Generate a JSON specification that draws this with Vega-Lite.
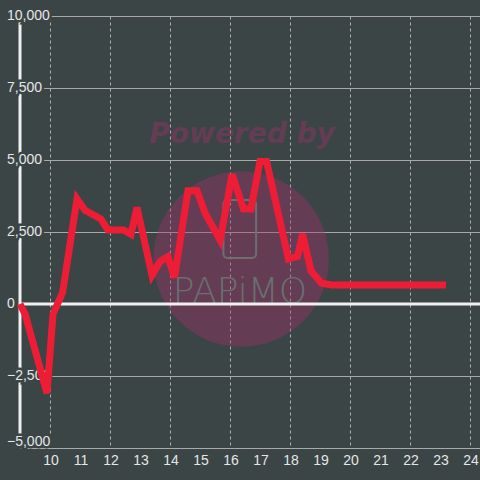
{
  "$schema": "https://vega.github.io/schema/vega-lite/v6.json",
  "width": 460,
  "height": 432,
  "autosize": {"type": "none"},
  "padding": {"left": 20, "top": 16, "right": 0, "bottom": 32},
  "background": "#3b4545",
  "config": {
    "view": {"stroke": null},
    "font": "Liberation Sans",
    "axisX": {
      "grid": true,
      "gridDash": [3, 3],
      "gridColor": "#b0b0b0",
      "gridWidth": 1,
      "domain": true,
      "domainColor": "#aaaaaa",
      "domainWidth": 1,
      "ticks": false,
      "labels": false
    },
    "axisY": {
      "grid": true,
      "gridColor": "#a8a8a8",
      "gridWidth": 1,
      "domain": false,
      "ticks": false,
      "labels": false
    }
  },
  "datasets": {
    "series": [
      {"x": 9.0, "y": 0},
      {"x": 9.17, "y": -350},
      {"x": 9.9, "y": -3100},
      {"x": 10.1, "y": -350},
      {"x": 10.42, "y": 400},
      {"x": 10.9, "y": 3650},
      {"x": 11.17, "y": 3250},
      {"x": 11.7, "y": 2950},
      {"x": 11.93, "y": 2570},
      {"x": 12.45, "y": 2570},
      {"x": 12.7, "y": 2420},
      {"x": 12.9, "y": 3350},
      {"x": 13.4, "y": 1000},
      {"x": 13.67, "y": 1480},
      {"x": 13.93, "y": 1640},
      {"x": 14.15, "y": 920},
      {"x": 14.6, "y": 3930},
      {"x": 14.9, "y": 3930},
      {"x": 15.17, "y": 3150},
      {"x": 15.67, "y": 2220},
      {"x": 16.07, "y": 4500},
      {"x": 16.45, "y": 3300},
      {"x": 16.7, "y": 3300},
      {"x": 17.0, "y": 4950},
      {"x": 17.22, "y": 4950},
      {"x": 17.95, "y": 1560},
      {"x": 18.25, "y": 1650},
      {"x": 18.42, "y": 2430},
      {"x": 18.7, "y": 1150},
      {"x": 19.05, "y": 720},
      {"x": 19.4, "y": 660},
      {"x": 23.2, "y": 660}
    ],
    "ylabels": [
      {"v": 10000}, {"v": 7500}, {"v": 5000}, {"v": 2500}, {"v": 0}, {"v": -2500}, {"v": -5000}
    ],
    "xlabels": [
      {"t": 10, "b": -5000}, {"t": 11, "b": -5000}, {"t": 12, "b": -5000}, {"t": 13, "b": -5000},
      {"t": 14, "b": -5000}, {"t": 15, "b": -5000}, {"t": 16, "b": -5000}, {"t": 17, "b": -5000},
      {"t": 18, "b": -5000}, {"t": 19, "b": -5000}, {"t": 20, "b": -5000}, {"t": 21, "b": -5000},
      {"t": 22, "b": -5000}, {"t": 23, "b": -5000}, {"t": 24, "b": -5000}
    ],
    "circle": [{"x": 16.37, "y": 1560}],
    "powered": [{"x": 16.4, "y": 5590, "label": "Powered by"}],
    "brand": [{"x": 16.33, "y": 35, "label": "PAPiMO"}],
    "phone": [{"x": 15.78, "x2": 16.87, "y": 3611, "y2": 1597}],
    "origin": [{"x": 9, "y": 0}]
  },
  "layer": [
    {
      "data": {"name": "circle"},
      "mark": {"type": "point", "filled": true, "shape": "circle", "size": 30790, "color": "#a8306e", "opacity": 0.38},
      "encoding": {
        "x": {
          "field": "x",
          "type": "quantitative",
          "scale": {"domain": [9, 24.3333], "nice": false, "zero": false},
          "axis": {"values": [10, 11, 12, 13, 14, 15, 16, 17, 18, 19, 20, 21, 22, 23, 24], "title": null}
        },
        "y": {
          "field": "y",
          "type": "quantitative",
          "scale": {"domain": [-5000, 10000], "nice": false, "zero": false},
          "axis": {"values": [-5000, -3750, -2500, -1250, 0, 1250, 2500, 3750, 5000, 6250, 7500, 8750, 10000], "title": null}
        }
      }
    },
    {
      "data": {"name": "powered"},
      "mark": {"type": "text", "font": "DejaVu Sans", "fontWeight": "bold", "fontStyle": "italic", "fontSize": 28, "align": "center", "baseline": "alphabetic", "color": "#a8306e", "opacity": 0.38},
      "encoding": {
        "x": {"field": "x", "type": "quantitative", "axis": {"title": null}},
        "y": {"field": "y", "type": "quantitative", "axis": {"title": null}},
        "text": {"field": "label"}
      }
    },
    {
      "data": {"name": "phone"},
      "mark": {"type": "rect", "fill": null, "stroke": "#6a7070", "strokeWidth": 2, "cornerRadius": 4},
      "encoding": {
        "x": {"field": "x", "type": "quantitative", "axis": {"title": null}},
        "x2": {"field": "x2"},
        "y": {"field": "y", "type": "quantitative", "axis": {"title": null}},
        "y2": {"field": "y2"}
      }
    },
    {
      "data": {"name": "brand"},
      "mark": {"type": "text", "font": "DejaVu Sans", "fontWeight": 200, "fontSize": 36, "align": "center", "baseline": "alphabetic", "color": "#6a7070"},
      "encoding": {
        "x": {"field": "x", "type": "quantitative", "axis": {"title": null}},
        "y": {"field": "y", "type": "quantitative", "axis": {"title": null}},
        "text": {"field": "label"}
      }
    },
    {
      "data": {"name": "origin"},
      "mark": {"type": "rule", "color": "#f0f0f0", "strokeWidth": 3},
      "encoding": {"x": {"field": "x", "type": "quantitative", "axis": {"title": null}}}
    },
    {
      "data": {"name": "origin"},
      "mark": {"type": "rule", "color": "#f0f0f0", "strokeWidth": 3},
      "encoding": {"y": {"field": "y", "type": "quantitative", "axis": {"title": null}}}
    },
    {
      "data": {"name": "ylabels"},
      "mark": {"type": "text", "align": "left", "baseline": "middle", "dx": -13, "dy": {"expr": "datum.v === -5000 ? -6 : 0"}, "fontSize": 14, "fill": "#3b4545", "stroke": "#3b4545", "strokeWidth": 5},
      "encoding": {
        "x": {"datum": 9, "type": "quantitative", "axis": {"title": null}},
        "y": {"field": "v", "type": "quantitative", "axis": {"title": null}},
        "text": {"field": "v", "type": "quantitative", "format": ","}
      }
    },
    {
      "data": {"name": "ylabels"},
      "mark": {"type": "text", "align": "left", "baseline": "middle", "dx": -13, "dy": {"expr": "datum.v === -5000 ? -6 : 0"}, "fontSize": 14, "fill": "#e6e6e6"},
      "encoding": {
        "x": {"datum": 9, "type": "quantitative", "axis": {"title": null}},
        "y": {"field": "v", "type": "quantitative", "axis": {"title": null}},
        "text": {"field": "v", "type": "quantitative", "format": ","}
      }
    },
    {
      "data": {"name": "xlabels"},
      "mark": {"type": "text", "align": "center", "baseline": "middle", "dy": 13, "dx": 1, "fontSize": 14, "fill": "#e6e6e6"},
      "encoding": {
        "x": {"field": "t", "type": "quantitative", "axis": {"title": null}},
        "y": {"field": "b", "type": "quantitative", "axis": {"title": null}},
        "text": {"field": "t", "type": "quantitative", "format": "d"}
      }
    },
    {
      "data": {"name": "series"},
      "mark": {"type": "line", "color": "#ee1d36", "strokeWidth": 7},
      "encoding": {
        "x": {"field": "x", "type": "quantitative", "axis": {"title": null}},
        "y": {"field": "y", "type": "quantitative", "axis": {"title": null}}
      }
    }
  ]
}
